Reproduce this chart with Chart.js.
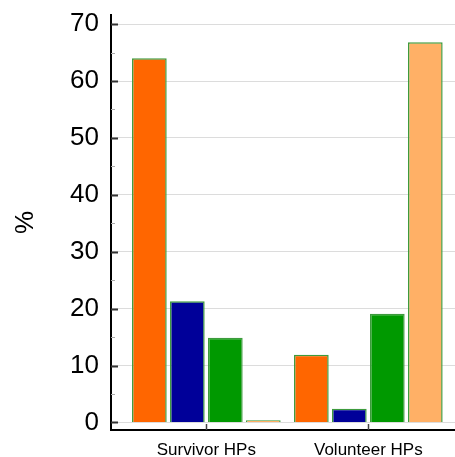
<!DOCTYPE html>
<html>
<head>
<meta charset="utf-8">
<script src="https://cdn.jsdelivr.net/npm/chart.js@4/dist/chart.umd.min.js"></script>
<style>
  html, body { margin: 0; padding: 0; background: #fff; }
  #wrap { width: 455px; height: 457px; position: relative; }
</style>
</head>
<body>
<div id="wrap"><canvas id="chart"></canvas></div>
<script>
// Groups on the x axis
const categories = ['Survivor HPs', 'Volunteer HPs'];

// Percent values for each series, one per group
const seriesOrange = [64.0, 11.9];
const seriesNavy = [21.3, 2.4];
const seriesGreen = [14.9, 19.1];
const seriesLight = [0.4, 66.8];

// Y axis tick labels
const yTicks = [0, 10, 20, 30, 40, 50, 60, 70];
const yMinor = [5, 15, 25, 35, 45, 55, 65];

const fills = ['#ff6600', '#000099', '#009900', '#ffb066'];
const allSeries = [seriesOrange, seriesNavy, seriesGreen, seriesLight];

// inward tick marks on both axes
const tickMarks = {
  id: 'tickMarks',
  afterDraw(chart) {
    const ctx = chart.ctx;
    const x = chart.scales.x;
    const y = chart.scales.y;
    const left = chart.chartArea.left;
    const bottom = chart.chartArea.bottom;
    ctx.save();
    ctx.strokeStyle = '#333';
    ctx.lineWidth = 2;
    yTicks.forEach(v => {
      const py = Math.round(y.getPixelForValue(v)) + 0.5;
      ctx.beginPath();
      ctx.moveTo(left, py);
      ctx.lineTo(left + 7, py);
      ctx.stroke();
    });
    ctx.strokeStyle = '#aaa';
    ctx.lineWidth = 1;
    yMinor.forEach(v => {
      const py = Math.round(y.getPixelForValue(v)) + 0.5;
      ctx.beginPath();
      ctx.moveTo(left, py);
      ctx.lineTo(left + 4, py);
      ctx.stroke();
    });
    ctx.strokeStyle = '#444';
    ctx.lineWidth = 1.5;
    categories.forEach((c, i) => {
      const px = Math.round(x.getPixelForValue(i + 1)) + 0.5;
      ctx.beginPath();
      ctx.moveTo(px, bottom);
      ctx.lineTo(px, bottom - 6);
      ctx.stroke();
    });
    ctx.restore();
  }
};

const ctx = document.getElementById('chart').getContext('2d');
new Chart(ctx, {
  type: 'bar',
  data: {
    datasets: allSeries.map((s, k) => ({
      label: 'series' + (k + 1),
      data: s.map((v, i) => ({ x: i + 1, y: v })),
      backgroundColor: fills[k],
      borderColor: '#3d9b3d',
      borderWidth: 1.5,
      categoryPercentage: 0.938,
      barPercentage: 0.913,
    })),
  },
  options: {
    responsive: true,
    maintainAspectRatio: false,
    animation: false,
    devicePixelRatio: 1,
    layout: { padding: { top: 15 } },
    plugins: {
      legend: { display: false },
      tooltip: { enabled: false },
    },
    scales: {
      x: {
        type: 'linear',
        offset: false,
        min: 0.4114,
        max: 2.535,
        afterBuildTicks(scale) {
          scale.ticks = categories.map((c, i) => ({ value: i + 1 }));
        },
        afterFit(scale) {
          scale.height = 27;
          scale.paddingLeft = 0;
          scale.paddingRight = 0;
        },
        grid: { display: false, offset: false, drawTicks: false },
        border: { display: true, color: '#000', width: 2 },
        ticks: {
          callback: (v) => categories[v - 1],
          color: '#000',
          font: { family: 'Liberation Sans, Arial, sans-serif', size: 17 },
          padding: 10,
          maxRotation: 0,
        },
      },
      y: {
        min: -1.32,
        max: 71.6,
        afterBuildTicks(scale) {
          scale.ticks = yTicks.map(v => ({ value: v }));
        },
        afterFit(scale) {
          scale.width = 111;
          scale.paddingTop = 0;
          scale.paddingBottom = 0;
        },
        grid: { color: '#dcdcdc', lineWidth: 1, drawTicks: false },
        border: { display: true, color: '#000', width: 2 },
        ticks: {
          color: '#000',
          font: { family: 'Liberation Sans, Arial, sans-serif', size: 26 },
          padding: 12,
        },
        title: {
          display: true,
          text: '%',
          color: '#000',
          font: { family: 'Liberation Sans, Arial, sans-serif', size: 26 },
          padding: { top: 10, bottom: 0 },
        },
      },
    },
  },
  plugins: [tickMarks],
});
</script>
</body>
</html>
